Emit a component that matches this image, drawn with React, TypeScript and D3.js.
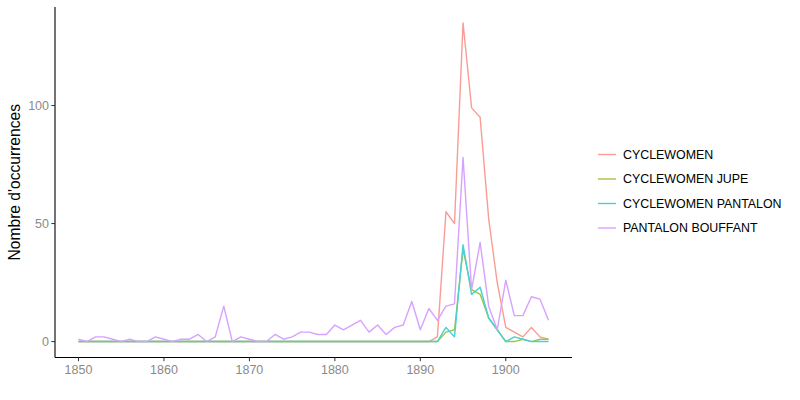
import React from "react";
import * as d3 from "d3";

const years = [
  1850, 1851, 1852, 1853, 1854, 1855, 1856, 1857, 1858, 1859,
  1860, 1861, 1862, 1863, 1864, 1865, 1866, 1867, 1868, 1869,
  1870, 1871, 1872, 1873, 1874, 1875, 1876, 1877, 1878, 1879,
  1880, 1881, 1882, 1883, 1884, 1885, 1886, 1887, 1888, 1889,
  1890, 1891, 1892, 1893, 1894, 1895, 1896, 1897, 1898, 1899,
  1900, 1901, 1902, 1903, 1904, 1905,
];

const cyclewomen = [
  0, 0, 0, 0, 0, 0, 0, 0, 0, 0,
  0, 0, 0, 0, 0, 0, 0, 0, 0, 0,
  0, 0, 0, 0, 0, 0, 0, 0, 0, 0,
  0, 0, 0, 0, 0, 0, 0, 0, 0, 0,
  0, 0, 2, 55, 50, 135, 99, 95, 52, 25,
  6, 4, 2, 6, 2, 1,
];

const cyclewomenJupe = [
  0, 0, 0, 0, 0, 0, 0, 0, 0, 0,
  0, 0, 0, 0, 0, 0, 0, 0, 0, 0,
  0, 0, 0, 0, 0, 0, 0, 0, 0, 0,
  0, 0, 0, 0, 0, 0, 0, 0, 0, 0,
  0, 0, 0, 4, 5, 39, 22, 20, 10, 5,
  0, 0, 1, 0, 1, 1,
];

const cyclewomenPantalon = [
  0, 0, 0, 0, 0, 0, 0, 0, 0, 0,
  0, 0, 0, 0, 0, 0, 0, 0, 0, 0,
  0, 0, 0, 0, 0, 0, 0, 0, 0, 0,
  0, 0, 0, 0, 0, 0, 0, 0, 0, 0,
  0, 0, 0, 6, 2, 41, 20, 23, 10, 5,
  0, 2, 1, 0, 0, 0,
];

const pantalonBouffant = [
  1, 0, 2, 2, 1, 0, 1, 0, 0, 2,
  1, 0, 1, 1, 3, 0, 2, 15, 0, 2,
  1, 0, 0, 3, 1, 2, 4, 4, 3, 3,
  7, 5, 7, 9, 4, 7, 3, 6, 7, 17,
  5, 14, 9, 15, 16, 78, 22, 42, 15, 5,
  26, 11, 11, 19, 18, 9,
];

const seriesNames = [
  "CYCLEWOMEN",
  "CYCLEWOMEN JUPE",
  "CYCLEWOMEN PANTALON",
  "PANTALON BOUFFANT",
];
const seriesValues = [cyclewomen, cyclewomenJupe, cyclewomenPantalon, pantalonBouffant];
const seriesColors = ["#FA9C96", "#A1C547", "#47D1D4", "#D7A1FF"];

const xTicks = [1850, 1860, 1870, 1880, 1890, 1900];
const yTicks = [0, 50, 100];
const yTitle = "Nombre d'occurrences";

const W = 800;
const H = 400;
const panel = { left: 55, right: 572, top: 7, bottom: 357.5 };
const font = "'Liberation Sans', Arial, Helvetica, sans-serif";

export default function App() {
  const xMin = d3.min(years)!;
  const xMax = d3.max(years)!;
  const xPad = (xMax - xMin) * 0.05;
  const yMax = d3.max(seriesValues.flat())!;
  const yPad = yMax * 0.05;

  const x = d3.scaleLinear().domain([xMin - xPad, xMax + xPad]).range([panel.left, panel.right]);
  const y = d3.scaleLinear().domain([-yPad, yMax + yPad]).range([panel.bottom, panel.top]);

  const line = d3
    .line<number>()
    .x((_, i) => x(years[i]))
    .y((d) => y(d));

  const tickColor = "#333333";
  const labelColor = "#8a8a8a";

  return (
    <svg width={W} height={H} style={{ position: "absolute", left: 0, top: 0, background: "#fff" }}>
      {/* data lines */}
      <g fill="none" strokeWidth={1.4} strokeLinejoin="round">
        {seriesValues.map((vals, si) => (
          <path key={si} d={line(vals) || ""} stroke={seriesColors[si]} />
        ))}
      </g>

      {/* axes */}
      <line x1={panel.left} x2={panel.left} y1={panel.top} y2={panel.bottom} stroke="#000" strokeWidth={1.1} />
      <line x1={panel.left} x2={panel.right} y1={panel.bottom} y2={panel.bottom} stroke="#000" strokeWidth={1.1} />

      {yTicks.map((t) => (
        <g key={"y" + t}>
          <line x1={panel.left - 3.7} x2={panel.left} y1={y(t)} y2={y(t)} stroke={tickColor} strokeWidth={1} />
          <text x={panel.left - 6} y={y(t)} dy="0.36em" textAnchor="end" fontSize={12.5} fill={labelColor} fontFamily={font}>
            {t}
          </text>
        </g>
      ))}

      {xTicks.map((t) => (
        <g key={"x" + t}>
          <line x1={x(t)} x2={x(t)} y1={panel.bottom} y2={panel.bottom + 3.7} stroke={tickColor} strokeWidth={1} />
          <text x={x(t)} y={panel.bottom + 16.5} textAnchor="middle" fontSize={12.5} fill={labelColor} fontFamily={font}>
            {t}
          </text>
        </g>
      ))}

      <text
        transform={`translate(20, ${(panel.top + panel.bottom) / 2}) rotate(-90)`}
        textAnchor="middle"
        fontSize={15.6}
        fill="#000"
        fontFamily={font}
      >
        {yTitle}
      </text>

      {/* legend */}
      {seriesNames.map((name, i) => {
        const cy = 154.5 + i * 24.5;
        return (
          <g key={name}>
            <line x1={598} x2={616} y1={cy} y2={cy} stroke={seriesColors[i]} strokeWidth={1.4} />
            <text x={623} y={cy} dy="0.36em" fontSize={12.4} fill="#000" fontFamily={font}>
              {name}
            </text>
          </g>
        );
      })}
    </svg>
  );
}
